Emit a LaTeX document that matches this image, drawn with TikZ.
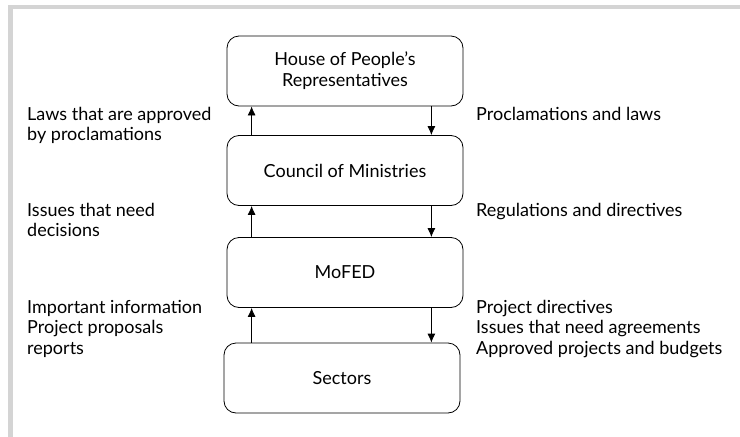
\documentclass[tikz,border=0pt]{standalone}
\usepackage{fontspec}
\setmainfont{Lato}
\usetikzlibrary{positioning, arrows.meta}
\definecolor{cornice}{RGB}{212,212,212}

\begin{document}
\begin{tikzpicture}[x=1pt, y=-1pt,
	blocco/.style={rectangle, rounded corners=12pt, draw, line width=0.8pt, align=center, minimum width=236pt, minimum height=70pt, font=\fontsize{18}{21}\selectfont},
	nota/.style={anchor=base west, align=left, inner sep=0pt, font=\fontsize{18}{20.5}\selectfont},
	freccia/.style={-{Latex[length=9pt, width=8pt]}, line width=0.8pt}]
		
		\useasboundingbox (0,0) rectangle (740,437);
		
		%Cornice grigia
		\fill[cornice] (8,4.5) rectangle (740,9);
		\fill[cornice] (8,4.5) rectangle (13,437);
		
		%Creo i blocchi della gerarchia
		\node (house) at (345,71) [blocco] {House of People's\\Representatives};
		
		\node (council) at (345,170.5) [blocco] {Council of Ministries};
		
		\node (mofed) at (345,272.5) [blocco] {MoFED};
		
		\node (sectors) at (342,378) [blocco] {Sectors};
		
		%Frecce tra i blocchi
		\draw[freccia] ([xshift=25pt]council.north west) -- ([xshift=25pt]house.south west);
		\draw[freccia] ([xshift=-32pt]house.south east) -- ([xshift=-32pt]council.north east);
		\draw[freccia] ([xshift=25pt]mofed.north west) -- ([xshift=25pt]council.south west);
		\draw[freccia] ([xshift=-32pt]council.south east) -- ([xshift=-32pt]mofed.north east);
		\draw[freccia] ([xshift=25pt]mofed.south west |- sectors.north) -- ([xshift=25pt]mofed.south west);
		\draw[freccia] ([xshift=-32pt]mofed.south east) -- ([xshift=-32pt]mofed.south east |- sectors.north);
		
		%Etichette (base = ultima riga)
		\node (laws) at (27,140.5) [nota] {Laws that are approved\\by proclamations};
		\node (proclamations) at (476,120) [nota] {Proclamations and laws};
		\node (issues) at (27,236.5) [nota] {Issues that need\\decisions};
		\node (regulations) at (476,216) [nota] {Regulations and directives};
		\node (important) at (27,354) [nota] {Important information\\Project proposals\\reports};
		\node (directives) at (476,354) [nota] {Project directives\\Issues that need agreements\\Approved projects and budgets};
		
\end{tikzpicture}
\end{document}
